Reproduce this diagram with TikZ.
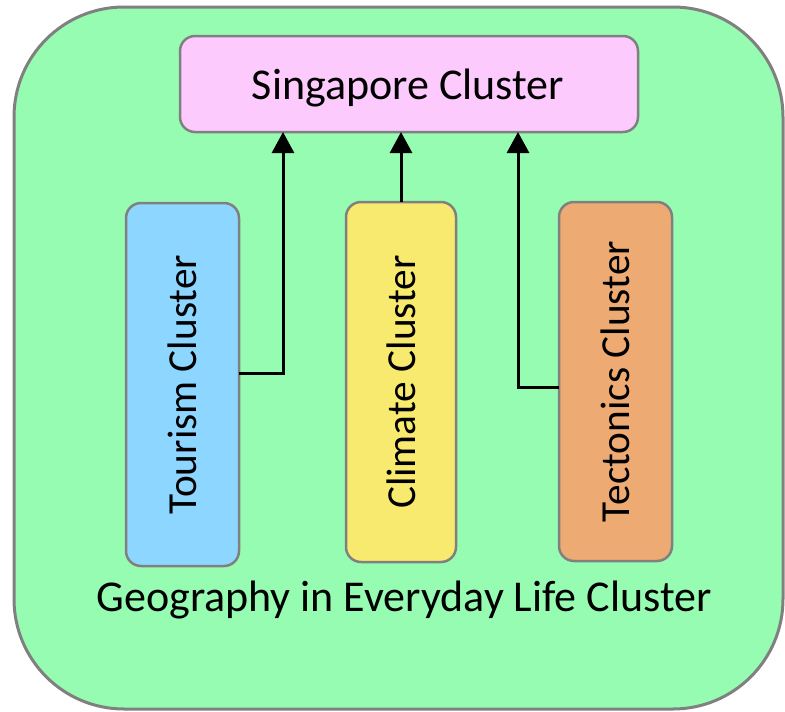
\documentclass[tikz,border=0pt]{standalone}
\usepackage{fontspec}
\setmainfont{Carlito}
\usetikzlibrary{arrows.meta}
\definecolor{bggreen}{RGB}{150,252,178}
\definecolor{pinkfill}{RGB}{252,202,252}
\definecolor{bluefill}{RGB}{140,214,255}
\definecolor{yellowfill}{RGB}{248,234,110}
\definecolor{orangefill}{RGB}{237,170,115}
\definecolor{edgegray}{RGB}{128,128,128}
\tikzset{
  clbox/.style={draw=edgegray, line width=2.5pt, rounded corners=15pt, inner sep=0pt, outer sep=0pt},
  vtext/.style={font=\fontsize{41.3}{48}\selectfont, rotate=90},
  htext/.style={font=\fontsize{44}{52}\selectfont},
  arr/.style={draw=black, line width=3pt, -{Triangle[length=21pt,width=22pt]}},
}
\begin{document}
\begin{tikzpicture}[x=1pt,y=-1pt]
\useasboundingbox (0,0) rectangle (785,712);
\node[draw=edgegray, line width=3pt, fill=bggreen, rounded corners=110pt, minimum width=769pt, minimum height=702pt, inner sep=0pt] (outer) at (398.5,358) {};
\node[clbox, fill=pinkfill, minimum width=458pt, minimum height=96pt] (sing) at (409,84) {};
\node[htext] (singt) at (408,88) {Singapore Cluster};
\node[clbox, fill=bluefill, minimum width=113pt, minimum height=363pt] (tour) at (182.5,384.5) {};
\node[vtext] (tourt) at (tour.center) {Tourism Cluster};
\node[clbox, fill=yellowfill, minimum width=110pt, minimum height=360pt] (clim) at (401,382) {};
\node[vtext] (climt) at (clim.center) {Climate Cluster};
\node[clbox, fill=orangefill, minimum width=113pt, minimum height=359pt] (tect) at (615.5,381.5) {};
\node[vtext] (tectt) at (tect.center) {Tectonics Cluster};
\node[htext] (geo) at (404,600) {Geography in Everyday Life Cluster};
\coordinate (t1) at (283,373);
\coordinate (k1) at (518,387);
\draw[arr] (tour.east |- t1) -- (t1) -- (t1 |- sing.south);
\draw[arr] (clim.north) -- (clim.north |- sing.south);
\draw[arr] (tect.west |- k1) -- (k1) -- (k1 |- sing.south);
\end{tikzpicture}
\end{document}
